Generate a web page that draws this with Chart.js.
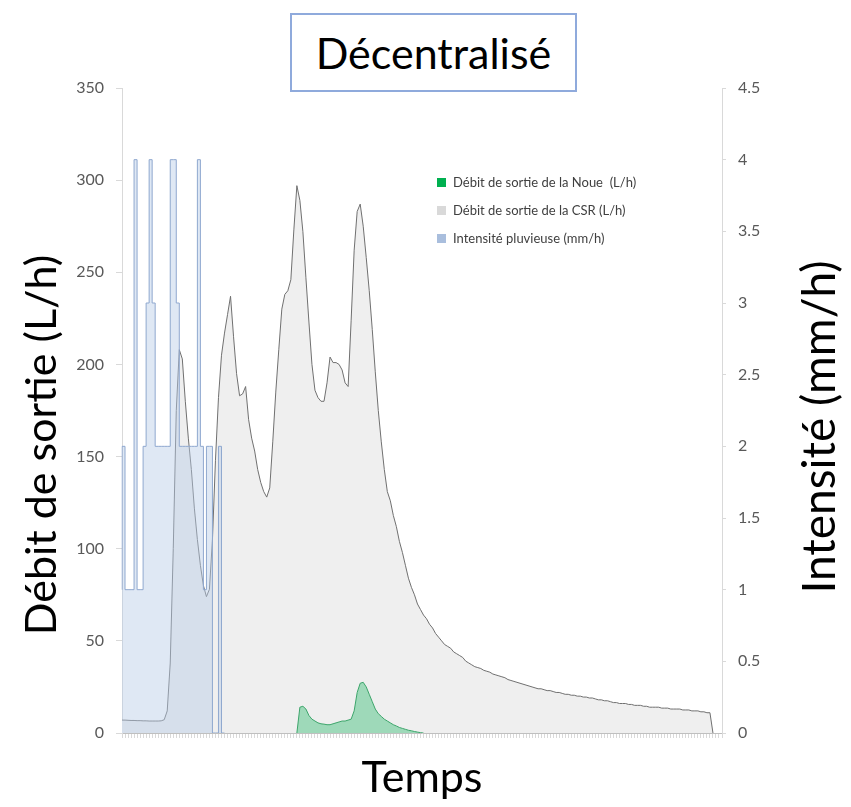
<!DOCTYPE html>
<html>
<head>
<meta charset="utf-8">
<script src="https://cdn.jsdelivr.net/npm/chart.js@4.4.0/dist/chart.umd.min.js"></script>
<style>
	body { margin: 0; background: #fff; font-family: Lato, "Open Sans", sans-serif; }
	#wrap { position: relative; width: 851px; height: 807px; }
	#titleBox {
		position: absolute; left: 290px; top: 13px; width: 283px; height: 75px;
		border: 2px solid #8FAADC; background: #fff;
		font-size: 43px; color: #000; text-align: center; line-height: 75px;
	}
	#legend { position: absolute; left: 437px; top: 172px; font-size: 13px; color: #404040; }
	#legend div { height: 28px; line-height: 20px; white-space: pre; }
	#legend span { display: inline-block; width: 9px; height: 9px; margin-right: 7px; }
</style>
</head>
<body>
<div id="wrap">
	<canvas id="myChart"></canvas>
	<div id="titleBox">Décentralisé</div>
	<div id="legend"></div>
</div>
<script>
// données
var nbPoints = 200;
var labels = [];
for (var i = 0; i < nbPoints; i++) labels.push(String(i + 1));

// Débit de sortie de la CSR (L/h)
var debitCSR = [
	7.0, 7.0, 6.9, 6.8, 6.8, 6.7, 6.7, 6.6, 6.6, 6.5,
	6.5, 6.5, 6.5, 6.6, 7.2, 12, 38, 100, 175, 208,
	203, 180, 160, 143, 122, 105, 91, 80, 74, 78,
	105, 148, 182, 205, 217, 227, 237, 215, 195, 183,
	184, 188, 170, 160, 153, 143, 136, 131, 128, 133,
	158, 185, 208, 230, 238, 240, 246, 273, 297, 289,
	272, 247, 223, 200, 186, 182, 180, 180, 190, 204,
	201, 201, 200, 197, 190, 188, 224, 262, 283, 287,
	275, 258, 240, 219, 196, 175, 158, 143, 131, 126,
	118, 112, 104, 98, 91, 84, 79, 75, 70, 67,
	64, 62, 59, 57, 54, 52, 50, 48, 47, 46,
	44, 43, 42, 41, 39, 38, 37, 36, 35.5, 35,
	34, 33.5, 33, 32, 31.5, 31, 30.5, 30, 29, 28.5,
	28, 27.5, 27, 26.5, 26, 25.5, 25, 24.5, 24, 24,
	23.5, 23, 23, 22.5, 22, 22, 21.5, 21, 21, 20.5,
	20.5, 20, 20, 19.5, 19.5, 19, 19, 18.5, 18, 18,
	17.5, 17.5, 17, 16.5, 16.5, 16, 16, 16, 15.5, 15.5,
	15, 15, 15, 14.5, 14.5, 14, 14, 14, 14, 13.5,
	13.5, 13.5, 13, 13, 13, 13, 12.5, 12.5, 12.5, 12,
	12, 12, 11.5, 11.5, 11, 11, 0, null, null, null
];

// Débit de sortie de la Noue (L/h), à partir du point 59
var debutNoue = 58;
var valeursNoue = [
	0, 14, 14.5, 13, 9.5, 7.5, 6.5, 5.5, 5, 4.8,
	4.5, 4.5, 5, 5.5, 6, 6.5, 6.5, 7, 7.5, 12,
	22, 27, 27.5, 25, 21, 17, 13, 10.5, 9, 7.5,
	6.5, 5.5, 4.5, 3.8, 3, 2.5, 2, 1.5, 1.2, 0.8,
	0.5, 0.2, 0
];

// Intensité pluvieuse (mm/h)
var intensite = [
	1, 2, 1, 1, 1, 4, 1, 1, 2, 3,
	4, 3, 2, 2, 2, 2, 2, 4, 4, 3,
	2, 2, 2, 2, 2, 2, 4, 2, 1, 2,
	2, 0, 0, 2, 0
];

var ticksGauche = [0, 50, 100, 150, 200, 250, 300, 350];
var ticksDroite = [0, 0.5, 1, 1.5, 2, 2.5, 3, 3.5, 4, 4.5];
var labelsDroite = ['0', '0.5', '1', '1.5', '2', '2.5', '3', '3.5', '4', '4.5'];

var debitNoue = labels.map(function(l, i) {
	var k = i - debutNoue;
	return (k >= 0 && k < valeursNoue.length) ? valeursNoue[k] : null;
});
var pluie = labels.map(function(l, i) {
	return i < intensite.length ? intensite[i] : null;
});

var series = [
	{ label: 'Débit de sortie de la Noue  (L/h)', couleur: '#00B050' },
	{ label: 'Débit de sortie de la CSR (L/h)', couleur: '#D9D9D9' },
	{ label: 'Intensité pluvieuse (mm/h)', couleur: '#A9BEDD' }
];
document.getElementById('legend').innerHTML = series.map(function(s) {
	return '<div><span style="background:' + s.couleur + '"></span>' + s.label + '</div>';
}).join('');

// titres des axes verticaux
var axisTitles = {
	id: 'axisTitles',
	afterDraw: function(chart) {
		var ctx = chart.ctx;
		var titres = [
			{ texte: 'Débit de sortie (L/h)', x: 42, y: 445, taille: 43 },
			{ texte: 'Intensité (mm/h)', x: 820, y: 427, taille: 46 }
		];
		titres.forEach(function(t) {
			ctx.save();
			ctx.fillStyle = '#000';
			ctx.font = t.taille + 'px Lato';
			ctx.textAlign = 'center';
			ctx.textBaseline = 'middle';
			ctx.translate(t.x, t.y);
			ctx.rotate(-Math.PI / 2);
			ctx.fillText(t.texte, 0, 0);
			ctx.restore();
		});
	}
};

var grisAxe = '#D9D9D9';
var ctx = document.getElementById('myChart').getContext('2d');
var myChart = new Chart(ctx, {
	type: 'line',
	data: {
		labels: labels,
		datasets: [
			{
				label: series[2].label,
				data: pluie,
				yAxisID: 'y1',
				stepped: 'after',
				borderColor: '#8FA8CF',
				borderWidth: 1,
				backgroundColor: 'rgba(185,203,230,0.45)',
				fill: 'origin',
				pointRadius: 0,
				order: 1
			},
			{
				label: series[0].label,
				data: debitNoue,
				yAxisID: 'y',
				borderColor: '#3DA56B',
				borderWidth: 1,
				backgroundColor: 'rgba(60,190,120,0.45)',
				fill: 'origin',
				pointRadius: 0,
				tension: 0,
				order: 2
			},
			{
				label: series[1].label,
				data: debitCSR,
				yAxisID: 'y',
				borderColor: '#707070',
				borderWidth: 1,
				backgroundColor: '#EFEFEF',
				fill: 'origin',
				pointRadius: 0,
				tension: 0,
				order: 3
			}
		]
	},
	options: {
		responsive: true,
		maintainAspectRatio: false,
		animation: false,
		layout: { padding: { top: 88, left: 0, right: 0, bottom: 0 } },
		plugins: {
			legend: { display: false },
			tooltip: { enabled: false },
			title: { display: false }
		},
		scales: {
			x: {
				type: 'category',
				offset: false,
				grid: { drawOnChartArea: false, color: grisAxe, tickLength: 5 },
				border: { color: '#BFBFBF' },
				ticks: { display: false, autoSkip: false },
				title: {
					display: true, text: 'Temps', color: '#000',
					font: { family: 'Lato', size: 43 },
					padding: { top: 0, bottom: 3 }
				},
				afterFit: function(scale) { scale.height = 74; }
			},
			y: {
				position: 'left',
				min: 0, max: 350,
				afterBuildTicks: function(scale) {
					scale.ticks = ticksGauche.map(function(v) { return { value: v }; });
				},
				grid: { drawOnChartArea: false, color: grisAxe, tickLength: 6 },
				border: { color: grisAxe },
				ticks: { color: '#595959', font: { family: 'Lato', size: 16 }, padding: 12 },
				afterFit: function(scale) { scale.width = 122; }
			},
			y1: {
				position: 'right',
				min: 0, max: 4.5,
				afterBuildTicks: function(scale) {
					scale.ticks = ticksDroite.map(function(v) { return { value: v }; });
				},
				grid: { drawOnChartArea: false, color: grisAxe, tickLength: 4 },
				border: { color: grisAxe },
				ticks: {
					color: '#595959', font: { family: 'Lato', size: 16 }, padding: 12,
					callback: function(v, i) { return labelsDroite[i]; }
				},
				afterFit: function(scale) { scale.width = 129; }
			}
		}
	},
	plugins: [axisTitles]
});
</script>
</body>
</html>
